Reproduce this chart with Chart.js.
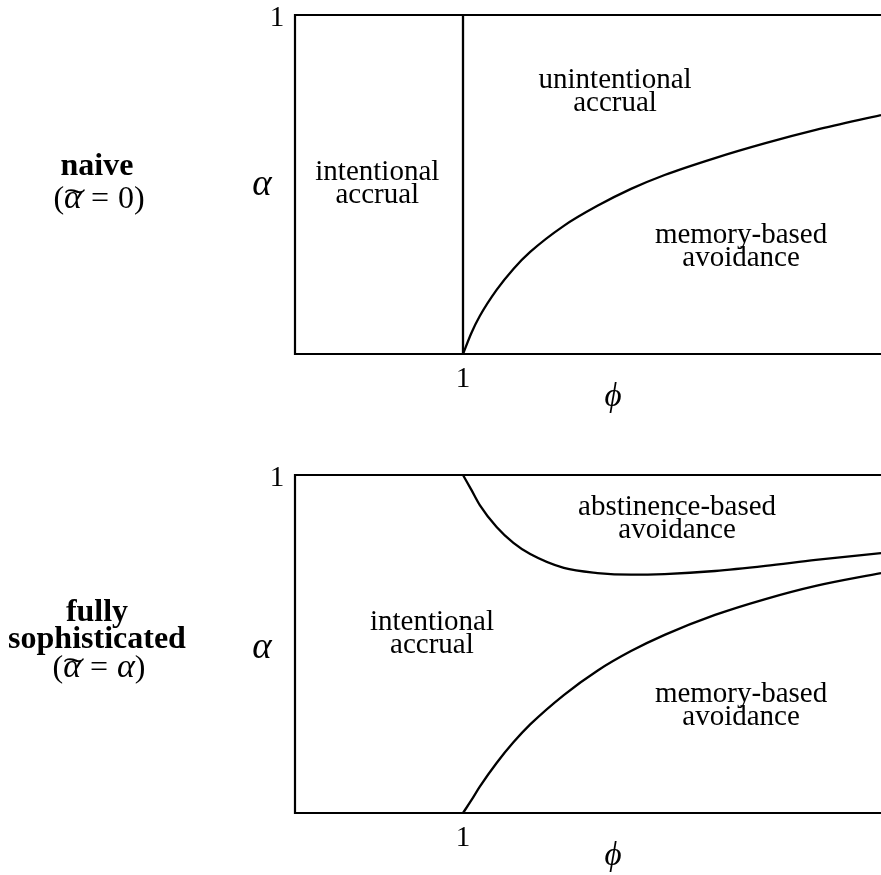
<!DOCTYPE html>
<html>
<head>
<meta charset="utf-8">
<script src="https://cdn.jsdelivr.net/npm/chart.js@4/dist/chart.umd.min.js"></script>
<style>
  html, body { margin: 0; padding: 0; background: #fff; }
  #wrap { position: relative; width: 881px; height: 875px; }
  .panel { position: absolute; left: 0; width: 881px; }
</style>
</head>
<body>
<div id="wrap">
  <div class="panel" style="top:0;height:437px"><canvas id="top"></canvas></div>
  <div class="panel" style="top:437px;height:438px"><canvas id="bottom"></canvas></div>
</div>
<script>
// ---------- data ----------
const phiRange = [0, 3.488];
const alphaRange = [0, 1];
const phiTickLabels = ["1"];
const phiTickValues = [1];
const alphaTickLabels = ["1"];
const alphaTickValues = [1];

const curvePhi = [1, 1.05, 1.1, 1.2, 1.3, 1.4, 1.6, 1.8, 2.0, 2.2, 2.5, 2.8, 3.1, 3.488];

// naive panel
const naiveBoundaryPhi = [1, 1];
const naiveBoundaryAlpha = [0, 1];
const naiveCurveAlpha = [0, 0.062, 0.112, 0.189, 0.251, 0.301, 0.378, 0.437, 0.487, 0.528, 0.578, 0.622, 0.661, 0.705];

// fully sophisticated panel
const sophUpperAlpha = [1, 0.956, 0.911, 0.846, 0.799, 0.766, 0.725, 0.710, 0.705, 0.707, 0.716, 0.731, 0.749, 0.769];
const sophLowerAlpha = [0, 0.038, 0.078, 0.148, 0.209, 0.262, 0.349, 0.421, 0.479, 0.527, 0.586, 0.633, 0.672, 0.710];

// region labels
const naiveRegionLabels = [
  ["intentional", "accrual"],
  ["unintentional", "accrual"],
  ["memory-based", "avoidance"]
];
const sophRegionLabels = [
  ["intentional", "accrual"],
  ["abstinence-based", "avoidance"],
  ["memory-based", "avoidance"]
];
const naiveRowTitle = ["naive"];
const sophRowTitle = ["fully", "sophisticated"];
const xAxisSymbol = "\u03D5";
const yAxisSymbol = "\u03B1";

// ---------- styling / layout ----------
const SERIF = "'Liberation Serif', 'Times New Roman', serif";
const FS = 29;
const LH = 23;

function pts(xs, ys) { return xs.map((x, i) => ({ x: x, y: ys[i] })); }

function lineDs(data, smooth) {
  return {
    data: data, showLine: true, borderColor: '#000', borderWidth: 2.3,
    pointRadius: 0, pointHoverRadius: 0, fill: false, clip: 6,
    cubicInterpolationMode: smooth ? 'monotone' : 'default', tension: 0
  };
}

// runs: {t, font, gap(before), tilde}
function drawRuns(ctx, runs, cx, baseline) {
  let total = 0;
  runs.forEach(r => { ctx.font = r.font; r.w = ctx.measureText(r.t).width; total += r.w + (r.gap || 0); });
  let x = cx - total / 2;
  ctx.textAlign = 'left';
  runs.forEach(r => {
    x += (r.gap || 0);
    ctx.font = r.font;
    ctx.fillText(r.t, x, baseline);
    if (r.tilde) {
      ctx.save();
      ctx.translate(x + r.w / 2 + 2, baseline + 1);
      ctx.scale(2.1, 1);
      ctx.textAlign = 'center';
      ctx.font = '30px ' + SERIF;
      ctx.fillText('\u02DC', 0, 0);
      ctx.restore();
    }
    x += r.w;
  });
}

function makePlugin(spec) {
  return {
    id: 'decor',
    afterDraw(chart) {
      const ctx = chart.ctx, a = chart.chartArea;
      const xs = chart.scales.x, ys = chart.scales.y;
      ctx.save();
      // frame (left, top, bottom)
      ctx.strokeStyle = '#000'; ctx.lineWidth = 2.2; ctx.lineCap = 'square';
      ctx.beginPath();
      ctx.moveTo(a.right + 2, a.top); ctx.lineTo(a.left, a.top);
      ctx.lineTo(a.left, a.bottom); ctx.lineTo(a.right + 2, a.bottom);
      ctx.stroke();
      ctx.fillStyle = '#000';
      ctx.textBaseline = 'alphabetic';
      // tick labels
      ctx.font = FS + 'px ' + SERIF; ctx.textAlign = 'center';
      phiTickValues.forEach((v, i) => ctx.fillText(phiTickLabels[i], xs.getPixelForValue(v), a.bottom + 33));
      alphaTickValues.forEach((v, i) => ctx.fillText(alphaTickLabels[i], a.left - 18, ys.getPixelForValue(v) + 11));
      // axis symbols
      ctx.font = 'italic 33px ' + SERIF;
      ctx.fillText(xAxisSymbol, spec.phiX, a.bottom + spec.phiDy);
      ctx.font = 'italic 37px ' + SERIF;
      ctx.fillText(yAxisSymbol, 262, spec.alphaY);
      // region labels
      ctx.font = FS + 'px ' + SERIF;
      spec.regions.forEach((r, i) => {
        const cx = xs.getPixelForValue(r.phi), by = ys.getPixelForValue(r.alpha);
        spec.regionText[i].forEach((line, k) => ctx.fillText(line, cx, by + k * LH));
      });
      // row titles
      ctx.font = 'bold 32px ' + SERIF;
      spec.title.forEach((line, k) => ctx.fillText(line, 97, spec.titleY + k * 27));
      const it = 'italic 34px ' + SERIF, nm = '32px ' + SERIF;
      drawRuns(ctx, spec.mathRuns(it, nm), 99, spec.mathY);
      ctx.restore();
    }
  };
}

function baseOptions(pad) {
  return {
    responsive: true, maintainAspectRatio: false, animation: false,
    layout: { padding: pad },
    plugins: { legend: { display: false }, tooltip: { enabled: false } },
    scales: {
      x: { type: 'linear', min: phiRange[0], max: phiRange[1], display: false },
      y: { type: 'linear', min: alphaRange[0], max: alphaRange[1], display: false }
    }
  };
}

new Chart(document.getElementById('top'), {
  type: 'scatter',
  data: { datasets: [
    lineDs(pts(naiveBoundaryPhi, naiveBoundaryAlpha), false),
    lineDs(pts(curvePhi, naiveCurveAlpha), true)
  ] },
  options: baseOptions({ left: 295, top: 15, right: 0, bottom: 83 }),
  plugins: [makePlugin({
    phiX: 613, phiDy: 52, alphaY: 195,
    regions: [ { phi: 0.49, alpha: 0.513 }, { phi: 1.905, alpha: 0.785 }, { phi: 2.655, alpha: 0.327 } ],
    regionText: naiveRegionLabels,
    title: naiveRowTitle, titleY: 175,
    mathRuns: (it, nm) => [ { t: '(', font: nm }, { t: '\u03B1', font: it, tilde: true }, { t: '=', font: nm, gap: 9 }, { t: '0)', font: nm, gap: 9 } ],
    mathY: 208
  })]
});

new Chart(document.getElementById('bottom'), {
  type: 'scatter',
  data: { datasets: [
    lineDs(pts(curvePhi, sophUpperAlpha), true),
    lineDs(pts(curvePhi, sophLowerAlpha), true)
  ] },
  options: baseOptions({ left: 295, top: 38, right: 0, bottom: 62 }),
  plugins: [makePlugin({
    phiX: 613, phiDy: 52, alphaY: 658 - 437,
    regions: [ { phi: 0.815, alpha: 0.541 }, { phi: 2.274, alpha: 0.882 }, { phi: 2.655, alpha: 0.328 } ],
    regionText: sophRegionLabels,
    title: sophRowTitle, titleY: 621 - 437,
    mathRuns: (it, nm) => [ { t: '(', font: nm }, { t: '\u03B1', font: it, tilde: true }, { t: '=', font: nm, gap: 9 }, { t: '\u03B1', font: it, gap: 9 }, { t: ')', font: nm } ],
    mathY: 677 - 437
  })]
});
</script>
</body>
</html>
